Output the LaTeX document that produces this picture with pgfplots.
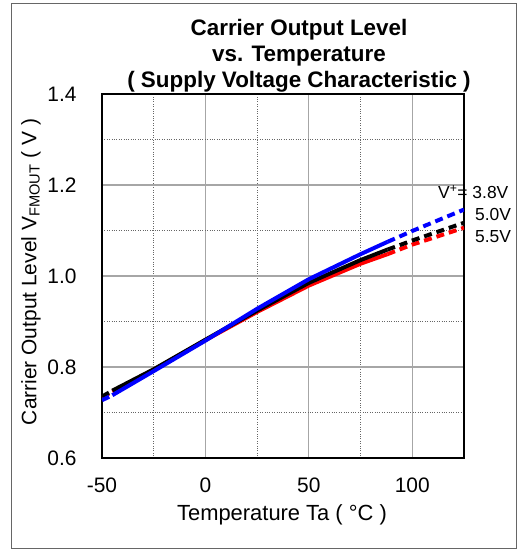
\documentclass[border=0pt]{standalone}
\usepackage{pgfplots}
\pgfplotsset{compat=1.18}
\usepackage{fontspec}
\setmainfont{Liberation Sans}

\definecolor{vblue}{rgb}{0.0,0.0,1.0}
\definecolor{vred}{rgb}{1.0,0.0,0.0}

\begin{document}
\begin{tikzpicture}[x=1bp,y=1bp]
\useasboundingbox (-102,-92) rectangle (415,458);
\draw[gray!80!black, line width=0.8bp] (-91,-90) rectangle (414,455);

\begin{axis}[%
at={(0,0)},
anchor=south west,
scale only axis,
width=362bp,
height=364bp,
xmin=-50, xmax=125,
ymin=0.6, ymax=1.4,
xtick={-50,0,50,100},
ytick={0.6,0.8,1.0,1.2,1.4},
minor xtick={-25,25,75},
minor ytick={0.7,0.9,1.1,1.3},
/pgf/number format/assume math mode=true,
yticklabel style={/pgf/number format/fixed, /pgf/number format/fixed zerofill, /pgf/number format/precision=1, xshift=-22bp},
xticklabel style={yshift=-16bp},
major tick length=0pt,
minor tick length=0pt,
xmajorgrids, ymajorgrids, xminorgrids, yminorgrids,
major grid style={gray!70, line width=1.1bp},
minor grid style={black!60, dotted, line width=0.6bp},
axis line style={black, line width=1.8bp},
ticklabel style={font=\fontsize{21}{23}\selectfont},
clip=true,
]
% 5.5V (red)
\addplot[vred, line width=4bp, dash pattern=on 8bp off 5bp] coordinates {(-50,0.733) (-45,0.746)};
\addplot[vred, line width=4bp] coordinates {(-45,0.746) (-25,0.794) (0,0.859) (25,0.921) (50,0.979) (75,1.027) (88,1.048)};
\addplot[vred, line width=4bp, dash pattern=on 8bp off 5bp] coordinates {(88,1.048) (100,1.069) (125,1.106)};
% 5.0V (black)
\addplot[black, line width=4bp, dash pattern=on 8bp off 5bp] coordinates {(-50,0.735) (-45,0.748)};
\addplot[black, line width=4bp] coordinates {(-45,0.748) (-25,0.795) (0,0.860) (25,0.924) (50,0.985) (75,1.035) (88,1.058)};
\addplot[black, line width=4bp, dash pattern=on 8bp off 5bp] coordinates {(88,1.058) (100,1.078) (125,1.117)};
% 3.8V (blue)
\addplot[vblue, line width=4bp, dash pattern=on 8bp off 5bp] coordinates {(-50,0.727) (-45,0.738)};
\addplot[vblue, line width=4bp] coordinates {(-45,0.738) (-25,0.791) (0,0.858) (25,0.928) (50,0.993) (75,1.048) (88,1.075)};
\addplot[vblue, line width=4bp, dash pattern=on 8bp off 5bp] coordinates {(88,1.075) (100,1.099) (125,1.146)};
\end{axis}

% title
\begin{scope}[every node/.style={font=\bfseries\fontsize{22.5}{25}\selectfont, anchor=base, inner sep=0pt}]
\node at (197,422) {Carrier Output Level};
\node at (197,396) {vs. Temperature};
\node at (197,370) {( Supply Voltage Characteristic )};
\end{scope}
% axis labels
\node[font=\fontsize{21}{23}\selectfont, rotate=90] at (-71,186)
  {Carrier Output Level V\textsubscript{FMOUT} ( V )};
\node[font=\fontsize{22}{24}\selectfont] at (180,-57) {Temperature Ta ( °C )};
% curve labels
\node[font=\fontsize{17.5}{19}\selectfont, anchor=west, inner sep=0pt] at (336,266) {V\textsuperscript{+}= 3.8V};
\node[font=\fontsize{17.5}{19}\selectfont, anchor=west, inner sep=0pt] at (373,243) {5.0V};
\node[font=\fontsize{17.5}{19}\selectfont, anchor=west, inner sep=0pt] at (373,221) {5.5V};
\end{tikzpicture}
\end{document}
